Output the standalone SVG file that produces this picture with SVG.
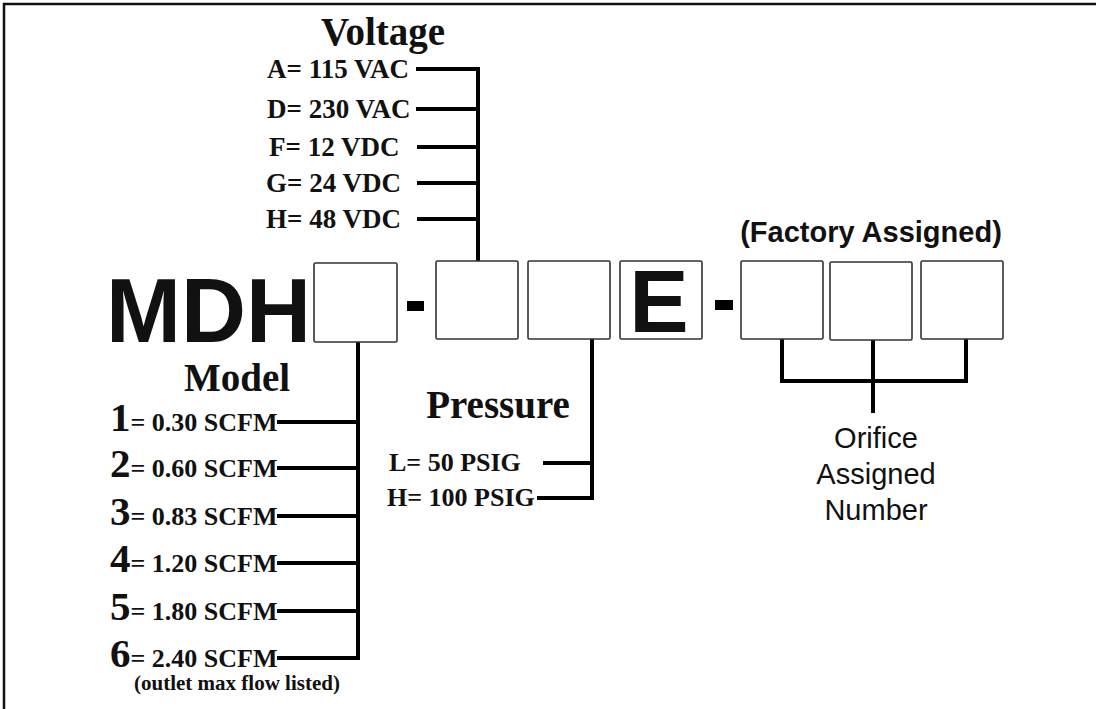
<svg xmlns="http://www.w3.org/2000/svg" width="1096" height="709" viewBox="0 0 1096 709">
<style>
.serif{font-family:"Liberation Serif","Times New Roman",serif;font-weight:bold;fill:#111}
.sans{font-family:"Liberation Sans",Arial,sans-serif;fill:#111}
.title{font-size:39px}
.item{font-size:26px}
.vitem{font-size:27px}
.dig{font-size:41px}
.box{fill:#fff;stroke:#333;stroke-width:1.6}
.conn{fill:none;stroke:#000;stroke-width:4;stroke-linecap:butt;stroke-linejoin:miter}
</style>
<rect x="0" y="0" width="1096" height="709" fill="#fff"/>
<path d="M4,709 V4 H1096" fill="none" stroke="#111" stroke-width="2.5"/>

<g id="connectors">
  <path class="conn" d="M416,69 H478 V261 M416,109 H478 M417,147 H478 M417,183 H478 M417,219 H478"/>
  <path class="conn" d="M358,342 V658 H277 M277,422 H358 M277,468 H358 M277,516 H358 M277,563 H358 M277,611 H358"/>
  <path class="conn" d="M592,339 V498 H537 M543,463 H592"/>
  <path class="conn" d="M782,339 V381 H966 V339 M873,340 V413"/>
</g>

<g id="title-mdh"><text class="sans" x="106" y="342" font-size="90" font-weight="bold">MDH</text></g>

<g id="box-model"><rect class="box" x="314" y="263" width="83" height="79" rx="1.5"/></g>
<g id="dash1"><rect x="407" y="301" width="17" height="10" fill="#000"/></g>
<g id="box-voltage"><rect class="box" x="436" y="261" width="82" height="78" rx="1.5"/></g>
<g id="box-pressure"><rect class="box" x="528" y="261" width="82" height="78" rx="1.5"/></g>
<g id="box-e"><rect class="box" x="620" y="261" width="82" height="78" rx="1.5"/>
  <text class="sans" x="659" y="332" font-size="89" font-weight="bold" text-anchor="middle">E</text></g>
<g id="dash2"><rect x="715" y="300" width="18" height="10" fill="#000"/></g>
<g id="box-orifice1"><rect class="box" x="741" y="261" width="82" height="78" rx="1.5"/></g>
<g id="box-orifice2"><rect class="box" x="830" y="262" width="82" height="78" rx="1.5"/></g>
<g id="box-orifice3"><rect class="box" x="921" y="261" width="82" height="78" rx="1.5"/></g>

<g id="voltage">
  <text class="serif title" x="383" y="45" text-anchor="middle">Voltage</text>
  <text class="serif vitem" x="267" y="78">A= 115 VAC</text>
  <text class="serif vitem" x="267" y="118">D= 230 VAC</text>
  <text class="serif vitem" x="269" y="156">F= 12 VDC</text>
  <text class="serif vitem" x="266" y="192">G= 24 VDC</text>
  <text class="serif vitem" x="266" y="228">H= 48 VDC</text>
</g>

<g id="model">
  <text class="serif title" x="237" y="391" text-anchor="middle">Model</text>
  <text class="serif item" x="110" y="431"><tspan class="dig">1</tspan>= 0.30 SCFM</text>
  <text class="serif item" x="110" y="477"><tspan class="dig">2</tspan>= 0.60 SCFM</text>
  <text class="serif item" x="110" y="525"><tspan class="dig">3</tspan>= 0.83 SCFM</text>
  <text class="serif item" x="110" y="572"><tspan class="dig">4</tspan>= 1.20 SCFM</text>
  <text class="serif item" x="110" y="620"><tspan class="dig">5</tspan>= 1.80 SCFM</text>
  <text class="serif item" x="110" y="667"><tspan class="dig">6</tspan>= 2.40 SCFM</text>
  <text class="serif" x="237" y="690" font-size="21" text-anchor="middle">(outlet max flow listed)</text>
</g>

<g id="pressure">
  <text class="serif title" x="498" y="418" text-anchor="middle">Pressure</text>
  <text class="serif item" x="389" y="471">L= 50 PSIG</text>
  <text class="serif item" x="387" y="506">H= 100 PSIG</text>
</g>

<g id="factory">
  <text class="sans" x="871" y="242" font-size="29" font-weight="bold" text-anchor="middle">(Factory Assigned)</text>
  <text class="sans" x="876" y="448" font-size="29" text-anchor="middle">Orifice</text>
  <text class="sans" x="876" y="484" font-size="29" text-anchor="middle">Assigned</text>
  <text class="sans" x="876" y="520" font-size="29" text-anchor="middle">Number</text>
</g>
</svg>
